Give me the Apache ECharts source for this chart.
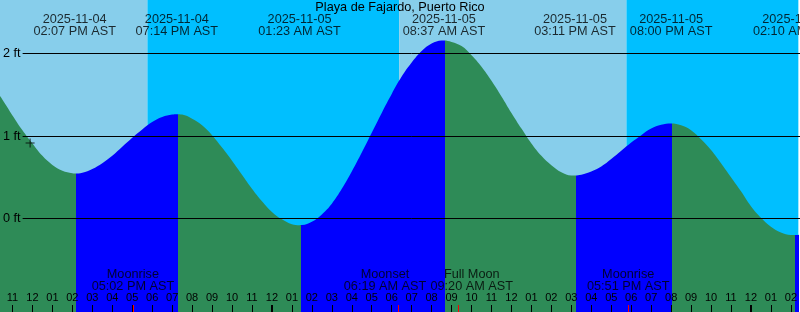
<!DOCTYPE html>
<html><head><meta charset="utf-8">
<script src="https://cdn.jsdelivr.net/npm/echarts@6/dist/echarts.min.js"></script>
<style>html,body{margin:0;padding:0;background:#fff}#chart{width:800px;height:312px}</style>
</head><body><div id="chart"></div>
<script>
// ---------------- data ----------------
const stationName = 'Playa de Fajardo, Puerto Rico';
const tzName = 'AST';
const tideTimes = ['2025-11-04 14:07','2025-11-04 19:14','2025-11-05 01:23','2025-11-05 08:37','2025-11-05 15:11','2025-11-05 20:00','2025-11-06 02:10'];
const tideLevels = [0.545, 1.264, -0.081, 2.158, 0.521, 1.152, -0.200];
// half-hourly readings of the tide curve (hours from 2025-11-05 00:00 AST)
const curveHours = [
  -14,-13.5,-13,-12.5,-12,-11.5,-11,-10.5,-10,
  -9.5,-9,-8.5,-8,-7.5,-7,-6.5,-6,-5.5,-5,
  -4.5,-4,-3.5,-3,-2.5,-2,-1.5,-1,-0.5,0,0.5,1,
  1.5,2,2.5,3,3.5,4,4.5,5,5.5,6,6.5,7,7.5,8,8.5,
  9,9.5,10,10.5,11,11.5,12,12.5,13,13.5,14,14.5,15,
  15.5,16,16.5,17,17.5,18,18.5,19,19.5,
  20.5,21,21.5,22,22.5,23,23.5,24,24.5,25,25.5,26,
  26.5,27];
const curveLevels = [
  1.61,1.44,1.25,1.07,0.91,0.76,0.65,0.58,0.55,
  0.555,0.60,0.67,0.76,0.87,0.98,1.08,1.17,1.23,1.26,
  1.26,1.21,1.13,1.01,0.86,0.70,0.53,0.36,0.21,0.08,-0.01,-0.07,
  -0.08,-0.04,0.05,0.18,0.36,0.57,0.80,1.04,1.28,1.51,1.72,1.89,2.03,2.12,2.157,
  2.14,2.09,1.98,1.84,1.67,1.48,1.28,1.09,0.91,0.76,0.645,0.56,0.52,
  0.53,0.57,0.63,0.72,0.82,0.92,1.01,1.09,1.135,
  1.13,1.07,0.96,0.83,0.67,0.50,0.33,0.15,0.01,-0.10,-0.17,-0.20,
  -0.19,-0.12];
const sunTimes = ['2025-11-04 17:45:40','2025-11-05 06:22:30','2025-11-05 17:45:40'];
const sunKinds = ['set','rise','set'];
const moonNames = ['Moonrise','Moonset','Full Moon','Moonrise'];
const moonTimes = ['2025-11-04 17:02','2025-11-05 06:19','2025-11-05 09:20','2025-11-05 17:51'];
const hourTickStart = '2025-11-04 11:00';
const hourTickLabels = ['11','12','01','02','03','04','05','06','07','08','09','10','11','12','01','02','03','04','05','06','07','08','09','10','11','12','01','02','03','04','05','06','07','08','09','10','11','12','01','02'];
const midnightTimes = ['2025-11-05 00:00','2025-11-06 00:00'];
const levelTicks = [0, 1, 2];
const levelUnit = 'ft';
const nowTime = '2025-11-04 11:53';
const nowLevel = 0.915;

// ---------------- helpers ----------------
function toHours(s){
  const [d, t] = s.split(' ');
  const day = +d.slice(8, 10);
  const p = t.split(':');
  return (day - 5) * 24 + (+p[0]) + (+p[1]) / 60 + (p[2] ? +p[2] / 3600 : 0);
}
function fmtTime(s){
  const t = s.split(' ')[1].split(':');
  let h = +t[0];
  const ap = h >= 12 ? 'PM' : 'AM';
  h = h % 12; if (h === 0) h = 12;
  return String(h).padStart(2, '0') + ':' + t[1] + ' ' + ap + ' ' + tzName;
}
const FONT = 'Liberation Sans';
const FS = 12.7;
const COL = {day:'#87CEEB', night:'#00BFFF', ebb:'#2E8B57', flood:'#0000FF'};

// view window
const xMin = -13.625, xMax = 26.375;
const yMin = -1.1333, yMax = 2.6485;
const colourLag = 0.05; // flood/ebb shading switches one pixel column after the turn

const tideX = tideTimes.map(toHours);
const pts = [];
curveHours.forEach((h, i) => pts.push([h, curveLevels[i]]));
tideX.forEach((h, i) => pts.push([h, tideLevels[i]]));
pts.sort((a, b) => a[0] - b[0]);

// flood (rising) / ebb (falling) pieces
const pieces = [];
const bx = tideX.map(x => x + colourLag);
pieces.push({lt: bx[0], color: tideLevels[0] < tideLevels[1] ? COL.ebb : COL.flood});
for (let i = 0; i < bx.length - 1; i++) {
  pieces.push({gte: bx[i], lt: bx[i + 1], color: tideLevels[i + 1] > tideLevels[i] ? COL.flood : COL.ebb});
}
const nL = bx.length;
pieces.push({gte: bx[nL - 1], color: tideLevels[nL - 1] < tideLevels[nL - 2] ? COL.flood : COL.ebb});

// sky areas
const sunX = sunTimes.map(toHours);
const skyAreas = [];
let prev = xMin, isDay = sunKinds[0] === 'set';
sunX.forEach((x, i) => {
  skyAreas.push([{xAxis: prev, itemStyle: {color: isDay ? COL.day : COL.night}}, {xAxis: x}]);
  prev = x; isDay = sunKinds[i] === 'rise';
});
skyAreas.push([{xAxis: prev, itemStyle: {color: isDay ? COL.day : COL.night}}, {xAxis: xMax}]);

const hourStart = toHours(hourTickStart);
const hourValues = hourTickLabels.map((_, i) => hourStart + i);
const midValues = midnightTimes.map(toHours);
const moonX = moonTimes.map(toHours);
const moonLabelShift = [0, -13, 13.5, 0];

const chart = echarts.init(document.getElementById('chart'), null, {renderer: 'canvas'});
const baseX = {gridIndex: 0, type: 'value', min: xMin, max: xMax, position: 'bottom',
  axisLine: {show: false, onZero: false}, splitLine: {show: false}};
const option = {
  animation: false,
  textStyle: {fontFamily: FONT},
  title: {text: stationName, left: 'center', top: 1, padding: 0,
    textStyle: {fontFamily: FONT, fontSize: FS, fontWeight: 'normal', color: '#000'}},
  grid: [{left: 0, right: 0, top: 0, bottom: 0}, {left: 22, right: 0, top: 0, bottom: 0}],
  xAxis: [
    Object.assign({}, baseX, {z: 8,
      axisTick: {inside: true, length: 7, customValues: hourValues, lineStyle: {color: '#000', width: 1}},
      axisLabel: {inside: true, margin: 9, customValues: hourValues, color: '#000', fontSize: 11, fontFamily: FONT,
        formatter: v => hourTickLabels[Math.round(v - hourStart)]}}),
    Object.assign({}, baseX, {z: 9, axisLabel: {show: false},
      axisTick: {inside: true, length: 7, customValues: midValues, lineStyle: {color: '#000', width: 2}}}),
    Object.assign({}, baseX, {z: 10, axisLabel: {show: false},
      axisTick: {inside: true, length: 7, customValues: moonX, lineStyle: {color: '#FF0000', width: 1}}}),
    {gridIndex: 1, type: 'value', min: xMin, max: xMax, show: false}
  ],
  yAxis: [
    {gridIndex: 0, type: 'value', min: yMin, max: yMax, show: false},
    {gridIndex: 1, type: 'value', min: yMin, max: yMax, z: 8,
      axisLine: {show: false, onZero: false}, axisTick: {show: false}, splitLine: {show: false},
      axisLabel: {customValues: levelTicks, margin: 2, color: '#000', fontSize: FS, fontFamily: FONT,
        formatter: v => v + ' ' + levelUnit}}
  ],
  visualMap: {type: 'piecewise', show: false, dimension: 0, seriesIndex: 1, pieces: pieces},
  series: [
    {type: 'line', xAxisIndex: 0, yAxisIndex: 0, data: [[xMin, yMin], [xMax, yMin]], symbol: 'none',
      lineStyle: {opacity: 0}, silent: true, z: 0,
      markArea: {silent: true, z: 0, itemStyle: {opacity: 1, borderWidth: 0}, data: skyAreas}},
    {type: 'line', xAxisIndex: 0, yAxisIndex: 0, data: pts, smooth: 0.4, symbol: 'none', z: 3,
      lineStyle: {width: 0}, areaStyle: {opacity: 1, origin: 'start'}, silent: true},
    {type: 'line', xAxisIndex: 3, yAxisIndex: 1, data: [[xMin, yMin], [xMax, yMin]], symbol: 'none',
      lineStyle: {opacity: 0}, silent: true, z: 5,
      markLine: {silent: true, z: 5, symbol: ['none', 'none'], label: {show: false},
        lineStyle: {color: '#000', width: 1, type: 'solid'},
        data: levelTicks.map(v => ({yAxis: v}))}},
    {type: 'scatter', xAxisIndex: 0, yAxisIndex: 0, z: 6, silent: true,
      data: tideX.map(x => [x, yMax]), symbolSize: 1, itemStyle: {color: 'rgba(0,0,0,0)'},
      label: {show: true, position: 'bottom', distance: 13, color: '#000', fontSize: FS, fontFamily: FONT,
        lineHeight: 12, textBorderWidth: 0,
        formatter: p => tideTimes[p.dataIndex].split(' ')[0] + '\n' + fmtTime(tideTimes[p.dataIndex])}},
    {type: 'scatter', xAxisIndex: 0, yAxisIndex: 0, z: 6, silent: true,
      data: moonX.map((x, i) => ({value: [x, yMin], label: {offset: [moonLabelShift[i], 0]}})),
      symbolSize: 1, itemStyle: {color: 'rgba(0,0,0,0)'},
      label: {show: true, position: 'top', distance: 19.5, color: '#000', fontSize: FS, fontFamily: FONT,
        lineHeight: 12, textBorderWidth: 0,
        formatter: p => moonNames[p.dataIndex] + '\n' + fmtTime(moonTimes[p.dataIndex])}},
    {type: 'scatter', xAxisIndex: 0, yAxisIndex: 0, z: 7, silent: true,
      data: [[toHours(nowTime), nowLevel]],
      symbol: 'path://M0,4h9v1h-9zM4,0h1v9h-1z', symbolSize: 9, itemStyle: {color: '#000'}}
  ]
};
chart.setOption(option);
</script>
</body></html>
